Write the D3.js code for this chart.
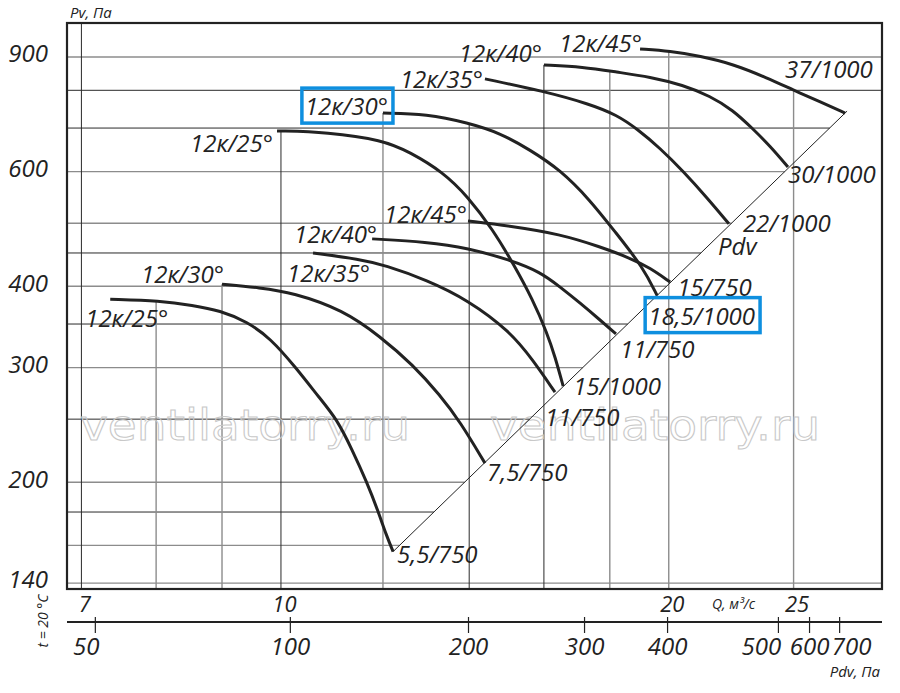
<!DOCTYPE html>
<html lang="ru">
<head>
<meta charset="UTF-8">
<title>Вентилятор 12К — характеристики</title>
<script src="https://d3js.org/d3.v7.min.js"></script>
<style>
  body { margin: 0; background: #fff; }
  svg { font-family: "Open Sans", "DejaVu Sans", sans-serif; font-style: italic; }
</style>
</head>
<body>
<svg width="900" height="693"></svg>
<script>
// blade angle labels, same for both speed groups
var angles = ["12к/25°", "12к/30°", "12к/35°", "12к/40°", "12к/45°"];

// motor kW / rpm at the end of each curve
var motors750 = ["5,5/750", "7,5/750", "11/750", "11/750", "15/750"];
var motors1000 = ["15/1000", "18,5/1000", "22/1000", "30/1000", "37/1000"];

// Q, m3/s (750 rpm)
var q750 = [
  [7.37, 8.06, 8.54, 8.97, 9.41, 9.81, 10.27, 10.72, 11.05, 11.35, 11.66, 11.89, 12.07, 12.22],
  [9.0, 9.63, 10.22, 11.17, 11.94, 12.66, 13.29, 13.77, 14.40],
  [10.59, 11.52, 12.04, 12.98, 13.97, 15.06, 15.69, 16.32],
  [11.77, 12.98, 13.97, 15.06, 15.89, 16.47, 17.07, 17.69, 18.20],
  [13.97, 15.06, 16.47, 17.69, 18.66, 19.34, 20.05]
];
// Pv, Pa (750 rpm)
var pv750 = [
  [382, 380, 374, 367, 353, 333, 300, 269, 250, 225, 200, 181, 166, 156.5],
  [403, 398, 391, 368, 335, 303, 272, 248, 214],
  [450, 440, 431, 409, 381, 341, 308, 275],
  [473, 468, 458, 439, 421, 399, 377, 355, 338],
  [504, 495, 481, 460, 442, 427, 406]
];
// Q, m3/s (1000 rpm)
var q1000 = [
  [9.93, 10.86, 12.00, 12.59, 13.36, 13.97, 14.61, 15.14, 15.69, 16.09, 16.32, 16.56],
  [12.0, 12.98, 13.97, 14.79, 15.61, 16.47, 17.37, 18.17, 19.10, 19.59],
  [14.40, 15.97, 17.37, 18.23, 18.90, 19.69, 20.52, 21.42, 22.27],
  [16.0, 17.16, 18.23, 19.34, 20.52, 21.53, 22.43, 23.21, 23.97, 24.75],
  [19.00, 20.05, 21.15, 22.43, 23.84, 24.98, 26.21, 27.41]
];
// Pv, Pa (1000 rpm)
var pv1000 = [
  [693, 690, 671, 643, 599, 549, 488, 434, 381, 339, 312, 281],
  [738, 736, 713, 688, 648, 604, 543, 485, 428, 387],
  [833, 798, 762, 733, 698, 652, 601, 547, 499],
  [875, 869, 853, 839, 815, 784, 746, 700, 657, 610],
  [926, 919, 903, 878, 836, 801, 768, 738]
];

// grid and axis values
var gridQ = [7, 8, 9, 10, 12, 14, 16, 18, 20, 25];
var darkQ = [7, 10, 14, 16];
var gridPv = [900, 800, 700, 600, 500, 450, 400, 350, 300, 250, 200, 180, 160, 140];
var darkPv = [800, 700, 450, 350, 250, 180];
var pvTicks = [900, 600, 400, 300, 200, 140];
var qTicks = [7, 10, 20, 25];
// second scale: dynamic pressure and the Q it sits under
var pdvTicks = [50, 100, 200, 300, 400, 500, 600, 700];
var pdvAtQ = [7.17, 10.16, 13.97, 17.19, 19.94, 24.31, 25.70, 27.12];

// label placement (px offsets from curve start / end)
var angleOff750 = [[58, 28], [2, -1], [57, 29], [5, 4], [-1, 2]];
var angleOff1000 = [[-4, 21], [5, 2], [-2, 9], [-2, -3], [2, 3]];
var motorOff750 = [[4, 11], [2, 18], [-10, 34], [4, 24], [7, 14]];
var motorOff1000 = [[10, 9], [-9, 29], [14, 8], [0, 16], [-60, -35]];
var pdvNudge = {50: -9, 500: -17, 700: 12};

var svg = d3.select("svg");
// plot frame ("top" is taken by window.top, so other names)
var fL = 67, fR = 882, fT = 23, fB = 589;
var fs = 24;

var x = d3.scaleLog().domain([6.822, 29.28]).range([fL, fR]);
var y = d3.scaleLog().domain([137.1, 1015]).range([fB, fT]);

var curves = [];
q750.forEach(function(qs, i) {
  curves.push({pts: qs.map(function(q, j) { return [q, pv750[i][j]]; }),
    angle: angles[i], motor: motors750[i], aOff: angleOff750[i], mOff: motorOff750[i], rpm: 750, i: i});
});
q1000.forEach(function(qs, i) {
  curves.push({pts: qs.map(function(q, j) { return [q, pv1000[i][j]]; }),
    angle: angles[i], motor: motors1000[i], aOff: angleOff1000[i], mOff: motorOff1000[i], rpm: 1000, i: i});
});

// highest curve above a given Q (vertical grid lines stop there)
function pvAt(c, q) {
  var p = c.pts;
  if (q < p[0][0] * 0.99 || q > p[p.length - 1][0]) return null;
  if (q <= p[0][0]) return p[0][1];
  for (var k = 1; k < p.length; k++) {
    if (q <= p[k][0]) {
      var t = Math.log(q / p[k-1][0]) / Math.log(p[k][0] / p[k-1][0]);
      return Math.exp(Math.log(p[k-1][1]) + t * Math.log(p[k][1] / p[k-1][1]));
    }
  }
  return null;
}
function envelope(q) {
  var best = null;
  curves.forEach(function(c) {
    var v = pvAt(c, q);
    if (v != null && (best == null || v > best)) best = v;
  });
  return best;
}

// Pdv diagonal through the curve ends
var A = curves[0].pts[curves[0].pts.length - 1];
var B = curves[9].pts[curves[9].pts.length - 1];
var ax = x(A[0]), ay = y(A[1]), bx = x(B[0]), by = y(B[1]);
function diagX(py) {
  if (py > ay || py < by) return fR;
  return ax + (py - ay) * (bx - ax) / (by - ay);
}

var grid = svg.append("g");
grid.selectAll(".h").data(gridPv).enter().append("line")
  .attr("x1", fL).attr("x2", function(d) { return diagX(y(d)); })
  .attr("y1", function(d) { return y(d); }).attr("y2", function(d) { return y(d); })
  .attr("stroke", function(d) { return darkPv.indexOf(d) >= 0 ? "#2a2a2a" : "#8c8c8c"; })
  .attr("stroke-width", function(d) { return darkPv.indexOf(d) >= 0 ? 1 : 1.4; });
grid.selectAll(".v").data(gridQ).enter().append("line")
  .attr("x1", function(d) { return x(d); }).attr("x2", function(d) { return x(d); })
  .attr("y1", fB)
  .attr("y2", function(d) { var e = envelope(d); return e == null ? fT : y(e); })
  .attr("stroke", function(d) { return darkQ.indexOf(d) >= 0 ? "#2a2a2a" : "#8c8c8c"; })
  .attr("stroke-width", function(d) { return darkQ.indexOf(d) >= 0 ? 1 : 1.4; });

// watermark
["ventilatorry.ru", "ventilatorry.ru"].forEach(function(t, k) {
  svg.append("text").text(t)
    .attr("x", k == 0 ? 80 : 490).attr("y", 440)
    .attr("textLength", 330).attr("lengthAdjust", "spacingAndGlyphs")
    .attr("font-family", "DejaVu Sans").attr("font-style", "normal")
    .attr("font-size", 42).attr("fill", "none")
    .attr("stroke", "#c8c8c8").attr("stroke-width", 1);
});

svg.append("line")
  .attr("x1", ax).attr("y1", ay).attr("x2", bx + 2).attr("y2", by - 2)
  .attr("stroke", "#222").attr("stroke-width", 1);

var line = d3.line()
  .x(function(d) { return x(d[0]); })
  .y(function(d) { return y(d[1]); })
  .curve(d3.curveBasis);

svg.selectAll(".curve").data(curves).enter().append("path")
  .attr("d", function(d) { return line(d.pts); })
  .attr("fill", "none").attr("stroke", "#222").attr("stroke-width", 3);

// blade angle labels at curve starts
var aLabels = svg.selectAll(".alab").data(curves).enter().append("text")
  .attr("x", function(d) { return x(d.pts[0][0]) + d.aOff[0]; })
  .attr("y", function(d) { return y(d.pts[0][1]) + d.aOff[1]; })
  .attr("text-anchor", "end").attr("font-size", fs).attr("fill", "#222")
  .text(function(d) { return d.angle; });

// motor labels at curve ends
var mLabels = svg.selectAll(".mlab").data(curves).enter().append("text")
  .attr("x", function(d) { return x(d.pts[d.pts.length - 1][0]) + d.mOff[0]; })
  .attr("y", function(d) { return y(d.pts[d.pts.length - 1][1]) + d.mOff[1]; })
  .attr("font-size", fs).attr("fill", "#222")
  .text(function(d) { return d.motor; });

svg.append("text").text("Pdv")
  .attr("x", 718).attr("y", 255).attr("font-size", fs).attr("fill", "#222");

// blue highlight boxes
var hl = [];
aLabels.each(function(d) { if (d.rpm == 1000 && d.i == 1) hl.push(this); });
mLabels.each(function(d) { if (d.motor == "18,5/1000") hl.push(this); });
hl.forEach(function(n) {
  var b = n.getBBox();
  svg.append("rect")
    .attr("x", b.x - 3).attr("y", b.y - 1).attr("width", b.width + 8).attr("height", b.height + 2)
    .attr("fill", "none").attr("stroke", "#0e8fdf").attr("stroke-width", 3.5);
});

// frame
svg.append("rect")
  .attr("x", fL).attr("y", fT).attr("width", fR - fL).attr("height", fB - fT)
  .attr("fill", "none").attr("stroke", "#222").attr("stroke-width", 2.2);

// Pv axis
var yAxis = svg.append("g").attr("transform", "translate(48,0)")
  .call(d3.axisLeft(y).tickValues(pvTicks).tickSize(0).tickPadding(0).tickFormat(d3.format("d")));
yAxis.select(".domain").remove();
yAxis.attr("font-family", null).attr("font-size", fs);
yAxis.selectAll("text").attr("dy", "0.2em").attr("fill", "#222");

// Q axis
var xAxis = svg.append("g").attr("transform", "translate(0," + fB + ")")
  .call(d3.axisBottom(x).tickValues(qTicks).tickSize(0).tickPadding(0).tickFormat(d3.format("d")));
xAxis.select(".domain").remove();
xAxis.attr("font-family", null).attr("font-size", 22);
xAxis.selectAll("text").attr("y", 23).attr("dy", 0).attr("dx", 3).attr("fill", "#222");

// Pdv axis
svg.append("line").attr("x1", fL).attr("x2", fR).attr("y1", 622).attr("y2", 622)
  .attr("stroke", "#222").attr("stroke-width", 2.2);
var pdvX = d3.scaleLog().domain(pdvTicks).range(pdvAtQ.map(x));
var pAxis = svg.append("g").attr("transform", "translate(0,622)")
  .call(d3.axisBottom(pdvX).tickValues(pdvTicks).tickSize(11).tickFormat(d3.format("d")));
pAxis.select(".domain").remove();
pAxis.attr("font-family", null).attr("font-size", fs);
pAxis.selectAll(".tick line").attr("y1", -5).attr("stroke", "#222").attr("stroke-width", 1.2);
pAxis.selectAll(".tick text").attr("y", 33).attr("dy", 0).attr("fill", "#222")
  .attr("dx", function(d) { return pdvNudge[d] || 0; });

// axis titles
svg.append("text").text("Pv, Па").attr("x", 70).attr("y", 18).attr("font-size", 15).attr("fill", "#222");
svg.append("text").text("Q, м³/с").attr("x", 712).attr("y", 609).attr("font-size", 14).attr("fill", "#222");
svg.append("text").text("Pdv, Па").attr("x", 880).attr("y", 677).attr("text-anchor", "end")
  .attr("font-size", 15).attr("fill", "#222");
svg.append("text").text("t = 20 °C").attr("transform", "translate(48,621) rotate(-90)")
  .attr("text-anchor", "middle").attr("font-size", 14).attr("fill", "#222");
</script>
</body>
</html>
